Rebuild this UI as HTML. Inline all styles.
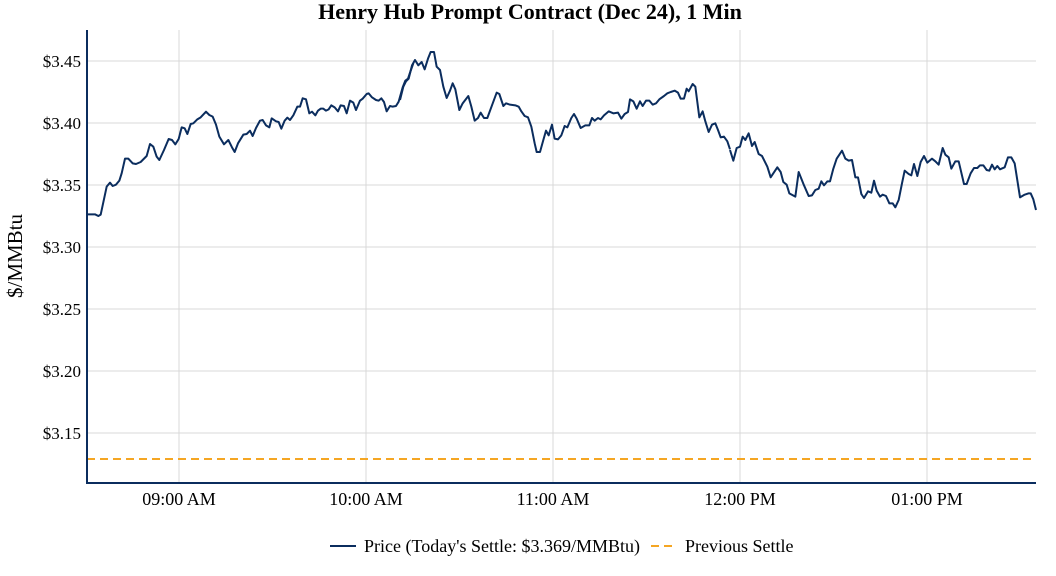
<!DOCTYPE html>
<html><head><meta charset="utf-8"><style>
body{margin:0;background:#fff;}
svg{display:block;font-family:"Liberation Serif",serif;}
</style></head><body>
<svg width="1056" height="576" xmlns="http://www.w3.org/2000/svg">
<text x="530" y="19" text-anchor="middle" font-size="22" font-weight="bold" fill="#000">Henry Hub Prompt Contract (Dec 24), 1 Min</text>
<g stroke="#d9d9d9" stroke-width="1">
<line x1="87" x2="1036" y1="61" y2="61"/><line x1="87" x2="1036" y1="123" y2="123"/>
<line x1="87" x2="1036" y1="185" y2="185"/><line x1="87" x2="1036" y1="247" y2="247"/>
<line x1="87" x2="1036" y1="309" y2="309"/><line x1="87" x2="1036" y1="371" y2="371"/>
<line x1="87" x2="1036" y1="433" y2="433"/>
<line x1="179" x2="179" y1="30" y2="483"/><line x1="366" x2="366" y1="30" y2="483"/>
<line x1="553" x2="553" y1="30" y2="483"/><line x1="740" x2="740" y1="30" y2="483"/>
<line x1="927" x2="927" y1="30" y2="483"/>
</g>
<g font-size="17" fill="#000" text-anchor="end">
<text x="81" y="67">$3.45</text><text x="81" y="129">$3.40</text><text x="81" y="191">$3.35</text>
<text x="81" y="253">$3.30</text><text x="81" y="315">$3.25</text><text x="81" y="377">$3.20</text>
<text x="81" y="439">$3.15</text>
</g>
<g font-size="18" fill="#000" text-anchor="middle">
<text x="179" y="505">09:00 AM</text><text x="366" y="505">10:00 AM</text><text x="553" y="505">11:00 AM</text>
<text x="740" y="505">12:00 PM</text><text x="927" y="505">01:00 PM</text>
</g>
<text transform="translate(22,256) rotate(-90)" text-anchor="middle" font-size="21" fill="#000">$/MMBtu</text>
<line x1="87" x2="1036" y1="459" y2="459" stroke="#f5a623" stroke-width="2" stroke-dasharray="8,5"/>
<g fill="none" stroke="#0b2d5e" stroke-width="2" stroke-linejoin="round">
<polyline vector-effect="non-scaling-stroke" transform="translate(80,40) scale(0.33333)" points="20,523 45,523 55,528 62,524 80,440 90,428 98,438 108,434 118,422 125,400 135,356 145,356 158,370 168,372 182,366 200,348 210,312 220,320 230,350 238,360 252,330 266,297 276,300 286,313 296,297 305,262 314,265 322,282 332,252 340,250 352,238 362,232 378,215 388,225 398,230 408,254 418,290 432,313 445,300 456,322 464,336 474,310 490,284 500,282 510,272 518,288 528,264 540,242 548,240 558,256 568,262 575,235 588,244 596,246 604,266 614,242 622,233 630,240 640,226 652,200 660,200 668,175 678,178 688,220 696,215 706,226 714,212 722,206 730,206 738,212 746,208 754,196 764,202 774,214 782,196 792,198 800,220 810,182 820,188 828,210 840,182 848,176 860,162 866,160 876,172 888,180 896,182 904,175 912,186 920,214 930,198 938,200 948,198 956,185 968,142 976,122 984,116 990,98 1000,70"/>
<polyline vector-effect="non-scaling-stroke" transform="translate(400,40) scale(0.33333)" points="0,180 10,140 18,124 26,116 36,76 45,60 55,76 65,66 74,88 84,56 92,36 102,36 110,80 120,90 130,140 140,174 150,152 158,130 166,148 178,210 188,190 205,168 214,200 224,242 234,234 242,218 252,234 262,234 276,196 290,158 298,162 310,198 318,190 330,194 346,196 356,200 364,214 374,228 384,232 394,260 404,310 410,336 420,336 430,300 438,272 446,286 456,254 464,296 474,298 484,286 494,258 502,262 514,234 522,222 530,236 542,264 556,256 568,256 576,234 584,242 594,234 602,238 612,226 626,214 640,220 654,218 664,236 674,222 684,216 690,178 700,184 710,206 720,184 728,198 738,182 748,182 758,194 768,190 778,178 792,168 802,160 812,156 824,152 834,158 842,176 852,176 860,146 866,154 878,132 886,140 898,232 908,214 916,244 926,276 936,254 946,250 954,270 962,292 972,290 982,304 990,328"/>
<polyline vector-effect="non-scaling-stroke" transform="translate(710,70) scale(0.33333)" points="60,240 70,272 80,234 90,230 98,200 106,210 116,190 126,228 134,216 146,252 156,258 172,290 182,322 202,292 212,306 220,336 230,344 238,370 256,380 266,306 282,346 296,378 306,376 316,360 326,356 334,334 342,346 352,334 360,334 370,296 380,266 396,242 406,266 416,272 426,270 436,322 444,322 454,372 462,384 474,364 484,368 492,332 500,362 510,380 518,374 528,378 538,400 548,400 556,412 566,390 576,340 584,302 596,312 604,316 612,282 622,318 632,276 642,258 652,278 666,266 676,274 686,284 698,234 706,254 716,262 724,296 736,274 746,274 762,342 770,342 782,310 792,294 802,294 810,286 820,286 830,300 838,302 846,284 854,298 862,288 870,298 884,292 894,262 904,262 914,280 930,382 944,374 956,370 962,370 970,388 978,420"/>
</g>
<line x1="87" x2="87" y1="30" y2="483" stroke="#0b2d5e" stroke-width="2"/>
<line x1="86" x2="1036" y1="483" y2="483" stroke="#0b2d5e" stroke-width="2"/>
<line x1="330" x2="356" y1="546" y2="546" stroke="#0b2d5e" stroke-width="2"/>
<text x="364" y="552" font-size="18" fill="#000">Price (Today's Settle: $3.369/MMBtu)</text>
<line x1="651" x2="677" y1="546" y2="546" stroke="#f5a623" stroke-width="2" stroke-dasharray="8,5"/>
<text x="685" y="552" font-size="18" fill="#000">Previous Settle</text>
</svg>
</body></html>
